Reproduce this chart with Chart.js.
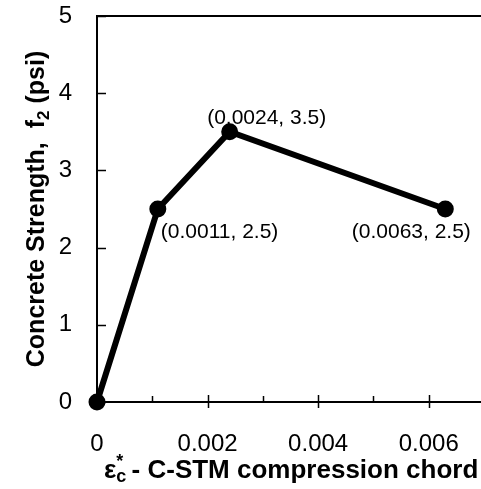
<!DOCTYPE html>
<html>
<head>
<meta charset="utf-8">
<script src="https://cdn.jsdelivr.net/npm/chart.js"></script>
<style>
  html, body { margin: 0; padding: 0; background: #fff; overflow: hidden; }
</style>
</head>
<body>
<canvas id="grafico" width="484" height="489"></canvas>
<script>
// curva tensao-deformacao do concreto (C-STM)
var strain = [0, 0.0011, 0.0024, 0.0063];
var stress = [0, 2.5, 3.5, 2.5];
var xTicks = [0, 0.002, 0.004, 0.006];
var xMinor = [0.001, 0.003, 0.005];
var yTicks = [0, 1, 2, 3, 4, 5];
// posicao do rotulo em relacao ao ponto: [dx, dy, alinhamento]
var labelPos = [null, [3, 23, 'left'], [37, -14, 'center'], [-34, 23, 'center']];

var FONTE = '"Liberation Sans", Arial, sans-serif';

var pontos = strain.map(function(x, i) { return { x: x, y: stress[i] }; });

function semMargem(s) {
  s.paddingLeft = 0; s.paddingRight = 0;
  s.paddingTop = 0; s.paddingBottom = 0;
}

var moldura = {
  id: 'moldura',
  afterDraw: function(chart) {
    var ctx = chart.ctx;
    var a = chart.chartArea;
    var sx = chart.scales.x, sy = chart.scales.y;
    ctx.save();
    ctx.strokeStyle = '#000';
    ctx.lineWidth = 2;
    ctx.strokeRect(a.left, a.top, a.right - a.left, a.bottom - a.top);

    // marcas dos eixos (para dentro)
    ctx.lineWidth = 1.5;
    ctx.beginPath();
    xTicks.forEach(function(v) {
      var px = Math.round(sx.getPixelForValue(v)) + 0.5;
      ctx.moveTo(px, a.bottom - 7); ctx.lineTo(px, a.bottom + 6);
    });
    xMinor.forEach(function(v) {
      var px = Math.round(sx.getPixelForValue(v)) + 0.5;
      ctx.moveTo(px, a.bottom - 6); ctx.lineTo(px, a.bottom);
    });
    yTicks.forEach(function(v) {
      var py = Math.round(sy.getPixelForValue(v)) + 0.5;
      ctx.moveTo(a.left, py); ctx.lineTo(a.left + 9, py);
    });
    ctx.stroke();

    // rotulos dos pontos
    ctx.fillStyle = '#000';
    ctx.font = '21px ' + FONTE;
    ctx.textBaseline = 'middle';
    pontos.forEach(function(p, i) {
      var pos = labelPos[i];
      if (!pos) return;
      var px = sx.getPixelForValue(p.x), py = sy.getPixelForValue(p.y);
      ctx.textAlign = pos[2];
      ctx.fillText('(' + p.x.toFixed(4) + ', ' + p.y.toFixed(1) + ')', px + pos[0], py + pos[1]);
    });

    // titulo do eixo y
    ctx.save();
    ctx.translate(44, (a.top + a.bottom) / 2);
    ctx.rotate(-Math.PI / 2);
    var t1 = 'Concrete Strength,  f', t2 = '2', t3 = ' (psi)';
    ctx.font = 'bold 25px ' + FONTE;
    var w1 = ctx.measureText(t1).width, w3 = ctx.measureText(t3).width;
    ctx.font = 'bold 17px ' + FONTE;
    var w2 = ctx.measureText(t2).width;
    var x0 = -(w1 + w2 + w3) / 2;
    ctx.textAlign = 'left';
    ctx.textBaseline = 'alphabetic';
    ctx.font = 'bold 25px ' + FONTE;
    ctx.fillText(t1, x0, 0);
    ctx.font = 'bold 17px ' + FONTE;
    ctx.fillText(t2, x0 + w1, 5);
    ctx.font = 'bold 25px ' + FONTE;
    ctx.fillText(t3, x0 + w1 + w2, 0);
    ctx.restore();

    // titulo do eixo x
    var base = 478;
    var xs = 104;
    ctx.textAlign = 'left';
    ctx.textBaseline = 'alphabetic';
    ctx.font = 'bold 26px ' + FONTE;
    ctx.fillText('\u03b5', xs, base);
    var we = ctx.measureText('\u03b5').width;
    ctx.font = 'bold 18px ' + FONTE;
    ctx.fillText('*', xs + we, base - 11);
    ctx.fillText('c', xs + we, base + 4);
    var ws = Math.max(ctx.measureText('*').width, ctx.measureText('c').width);
    ctx.font = 'bold 26px ' + FONTE;
    ctx.fillText(' - C-STM compression chord', xs + we + ws - 2, base);
    ctx.restore();
  }
};

new Chart(document.getElementById('grafico'), {
  type: 'scatter',
  data: {
    datasets: [{
      data: pontos,
      showLine: true,
      clip: false,
      borderColor: '#000',
      backgroundColor: '#000',
      borderWidth: 6,
      pointRadius: 5.5,
      pointHoverRadius: 5.5
    }]
  },
  options: {
    responsive: false,
    animation: false,
    events: [],
    layout: { autoPadding: false, padding: { top: 16, right: 0, left: 0, bottom: 0 } },
    plugins: { legend: { display: false }, tooltip: { enabled: false } },
    scales: {
      x: {
        type: 'linear',
        min: 0,
        max: 0.007,
        afterBuildTicks: function(s) { s.ticks = xTicks.map(function(v) { return { value: v }; }); },
        afterFit: function(s) { s.height = 87; semMargem(s); },
        grid: { display: false, drawTicks: false },
        border: { display: false },
        ticks: {
          color: '#000',
          font: { family: FONTE, size: 24 },
          padding: 28,
          maxRotation: 0,
          callback: function(v) { return String(v); }
        }
      },
      y: {
        min: 0,
        max: 5,
        afterBuildTicks: function(s) { s.ticks = yTicks.map(function(v) { return { value: v }; }); },
        afterFit: function(s) { s.width = 97; semMargem(s); },
        grid: { display: false, drawTicks: false },
        border: { display: false },
        ticks: {
          color: '#000',
          font: { family: FONTE, size: 24 },
          padding: 25
        }
      }
    }
  },
  plugins: [moldura]
});
</script>
</body>
</html>
